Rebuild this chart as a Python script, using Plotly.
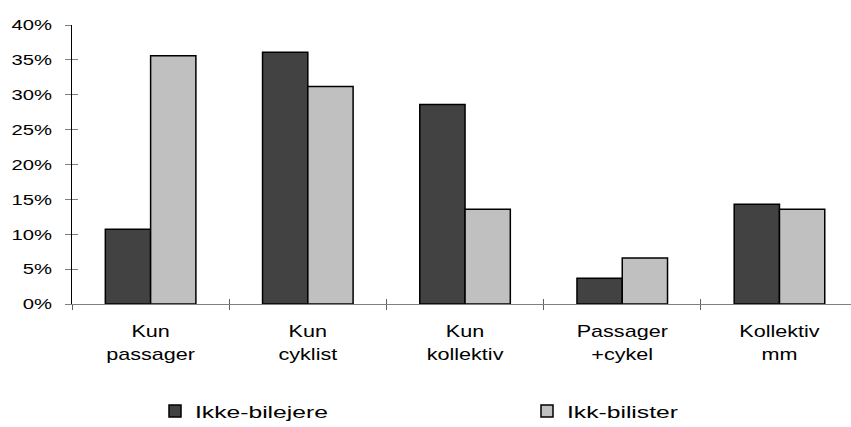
import plotly.graph_objects as go

# Andel (%) efter transportform
categories = ["Kun<br>passager", "Kun<br>cyklist", "Kun<br>kollektiv", "Passager<br>+cykel", "Kollektiv<br>mm"]
ikke_bilejere = [10.7, 36.1, 28.6, 3.7, 14.3]
ikk_bilister = [35.6, 31.2, 13.6, 6.6, 13.6]
y_ticks = [0, 5, 10, 15, 20, 25, 30, 35, 40]
y_tick_labels = [f"{v}%" for v in y_ticks]
boundaries = [-0.5, 0.5, 1.5, 2.5, 3.5]

FONT = "Liberation Sans, Arial, sans-serif"
PLOT_LEFT, PLOT_W = 72, 779


def px_to_paper(px):
    return (px - PLOT_LEFT) / PLOT_W


fig = go.Figure()
fig.add_trace(go.Bar(
    x=categories, y=ikke_bilejere, name="Ikke-bilejere", legendwidth=327,
    marker=dict(color="#424242", line=dict(color="#000000", width=1.5)),
))
fig.add_trace(go.Bar(
    x=categories, y=ikk_bilister, name="Ikk-bilister", legendwidth=130,
    marker=dict(color="#c0c0c0", line=dict(color="#000000", width=1.5)),
))

fig.update_layout(
    width=851, height=427,
    margin=dict(l=72, r=0, t=25, b=123, autoexpand=False),
    paper_bgcolor="white", plot_bgcolor="white",
    barmode="group", bargap=0.424, bargroupgap=0,
    font=dict(family=FONT, size=17, color="#000000"),
    showlegend=True,
    legend=dict(
        x=px_to_paper(155), xanchor="left", y=-0.385, yanchor="middle",
        orientation="h", itemwidth=30, traceorder="normal",
        font=dict(size=17, family=FONT, color="#000000"),
        bgcolor="rgba(0,0,0,0)",
    ),
    xaxis=dict(
        type="category", range=[-0.5, 4.455],
        showline=True, linecolor="#808080", linewidth=1,
        ticks="outside", tickson="boundaries", ticklen=5,
        tickcolor="#606060", tickwidth=1,
        tickfont=dict(size=17, family=FONT),
        ticklabelstandoff=12,
        showgrid=False, zeroline=False,
    ),
    xaxis2=dict(
        overlaying="x", anchor="y", type="linear", range=[-0.5, 4.455],
        tickvals=boundaries, ticks="inside", ticklen=5,
        tickcolor="#606060", tickwidth=1,
        showticklabels=False, showline=False, showgrid=False, zeroline=False,
    ),
    yaxis=dict(
        range=[0, 40], tickvals=y_ticks, ticktext=y_tick_labels,
        showline=True, linecolor="#000000", linewidth=1,
        ticks="outside", ticklen=6, tickcolor="#808080", tickwidth=1,
        tickfont=dict(size=15, family=FONT),
        ticklabelstandoff=10,
        showgrid=False, zeroline=False,
    ),
    yaxis2=dict(
        overlaying="y", anchor="x", range=[0, 40], tickvals=y_ticks,
        ticks="inside", ticklen=6, tickcolor="#808080", tickwidth=1,
        showticklabels=False, showline=False, showgrid=False, zeroline=False,
    ),
)

# Empty helper trace so the overlay axes are drawn
fig.add_trace(go.Scatter(x=[None], y=[None], xaxis="x2", yaxis="y2",
                         showlegend=False, hoverinfo="skip"))

# Widen the glyphs of axis and legend text (re-measured on every pass)
stretch_js = """
var gd = document.getElementById('{plot_id}');
function widen(){
  gd.querySelectorAll('.xtick text, .ytick text, text.legendtext').forEach(function(t){
    var isLegend = t.classList.contains('legendtext');
    var k = isLegend ? 1.45 : (t.closest('.xtick') ? 1.27 : 1.35);
    var parts = t.querySelectorAll('tspan.line');
    if (!parts.length) parts = [t];
    parts.forEach(function(p){
      p.removeAttribute('textLength');
      p.removeAttribute('lengthAdjust');
      var w = p.getComputedTextLength();
      if (!(w > 0)) return;
      p.setAttribute('textLength', w * k);
      p.setAttribute('lengthAdjust', 'spacingAndGlyphs');
    });
  });
  gd.querySelectorAll('.infolayer .scrollbox').forEach(function(s){
    s.removeAttribute('clip-path');
  });
}
widen();
gd.on('plotly_afterplot', widen);
[0, 50, 200, 500, 1000].forEach(function(ms){ setTimeout(widen, ms); });
"""

fig.write_html("out.html", post_script=stretch_js)
